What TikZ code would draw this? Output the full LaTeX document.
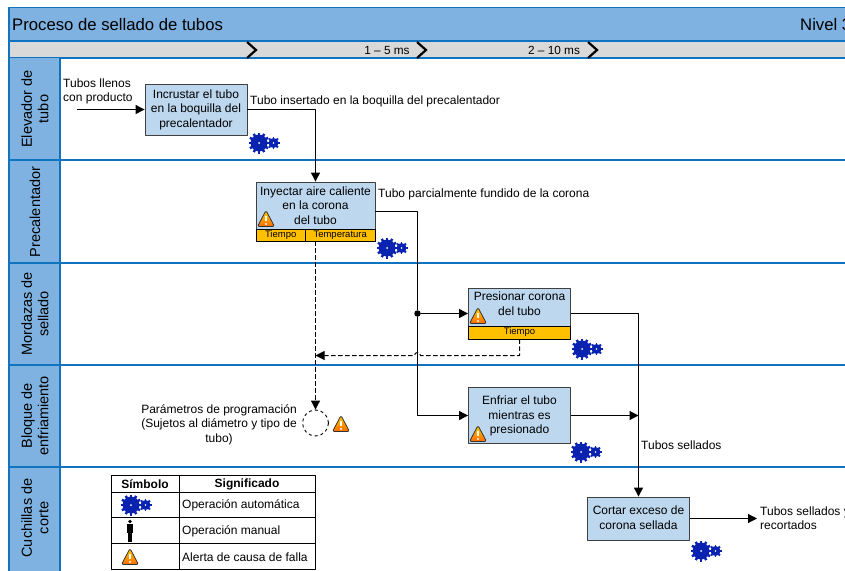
\documentclass[tikz,border=0pt]{standalone}
\usepackage{fontspec}
\setmainfont{Liberation Sans}
\usetikzlibrary{positioning,calc,arrows.meta}
\definecolor{azulcab}{HTML}{7FB2E0}
\definecolor{azulraya}{HTML}{0F73C0}
\definecolor{azulcaja}{HTML}{BDD7EE}
\definecolor{azulgear}{HTML}{0A22B0}
\definecolor{grisfranja}{HTML}{D9D9D9}
\definecolor{ambar}{HTML}{FFC000}
\tikzset{
	paso/.style={draw=black!75,fill=azulcaja,line width=0.9pt,inner sep=0pt},
	txtpaso/.style={align=center,inner sep=0pt,font=\fontsize{12}{14.6}\selectfont},
	etiq/.style={draw=black,fill=ambar,line width=0.8pt,inner sep=0pt,font=\fontsize{9.5}{10}\selectfont},
	txtlibre/.style={align=left,anchor=west,inner sep=0pt,font=\fontsize{12}{14.2}\selectfont},
	txtcarril/.style={rotate=90,align=center,inner sep=0pt,font=\fontsize{14.5}{16.5}\selectfont},
	flujo/.style={line width=1.2pt,-{Triangle[length=9pt,width=9pt]}},
	flujoraso/.style={line width=1.2pt},
	flujodash/.style={line width=1pt,dash pattern=on 4.5pt off 2.5pt,-{Triangle[length=9pt,width=9pt]}},
	chevron/.style={line width=2.2pt,line join=miter},
	alerta/.pic={
		\draw[draw=black!80,line width=0.8pt,rounded corners=1.5pt,top color=yellow!60!orange,bottom color=orange!85!red] (-8.5,7.5)--(0,-8.5)--(8.5,7.5)--cycle;
		\draw[white,line width=1.7pt] (0,-3.5)--(0,2);
		\fill[white] (0,5) circle(1.1);
	},
	engrane/.pic={
		\foreach \ang in {0,30,...,330} \draw[azulgear,line width=2.4pt] (0,0)--(\ang:10.5);
		\fill[azulgear] (0,0) circle(8.5);
		\fill[white] (0,0) circle(1);
		\foreach \ang in {0,45,...,315} \draw[azulgear,line width=1.8pt] (14.5,0)+(0,0)--+(\ang:6.3);
		\fill[azulgear] (14.5,0) circle(5);
		\fill[white] (14.5,0) circle(0.9);
	},
	persona/.pic={
		\fill (0,-8.5) circle(1.8);
		\fill (-3,-6) rectangle (3,3);
		\fill (-2,3) rectangle (2,12);
	}
}
\begin{document}
\begin{tikzpicture}[x=1pt,y=-1pt,line join=round]
	\useasboundingbox (0,0) rectangle (845,570);
	\clip (0,0) rectangle (845,570);
	% cabecera
	\draw[azulraya,line width=1.3pt,fill=azulcab] (9,7.5) rectangle (860,41);
	\draw[azulraya,line width=1.3pt,fill=grisfranja] (9,41) rectangle (860,58);
	\node[anchor=west,inner sep=0pt,font=\fontsize{16.7}{18}\selectfont] (titulo) at (12,24.5) {Proceso de sellado de tubos};
	\node[anchor=west,inner sep=0pt,font=\fontsize{16.7}{18}\selectfont] (nivel) at (800,24.5) {Nivel 3};
	\foreach \xc in {247,417,588} \draw[chevron] (\xc,42)--(\xc+9,50)--(\xc,58);
	\node[inner sep=0pt,font=\fontsize{11.8}{13}\selectfont] (tiempoa) at (387,50) {1 – 5 ms};
	\node[inner sep=0pt,font=\fontsize{11.8}{13}\selectfont] (tiempob) at (554,50) {2 – 10 ms};
	% carriles
	\fill[azulcab] (9,58) rectangle (60,580);
	\foreach \yc in {160,263,365,467} \draw[azulraya,line width=1.3pt] (9,\yc)--(860,\yc);
	\draw[azulraya,line width=1.3pt] (9,58)--(9,580) (60,58)--(60,580);
	\node[txtcarril] (elevador) at (35,109) {Elevador de\\tubo};
	\node[txtcarril] (precal) at (35,212) {Precalentador};
	\node[txtcarril] (mordazas) at (35,314) {Mordazas de\\sellado};
	\node[txtcarril] (bloque) at (35,416) {Bloque de\\enfriamiento};
	\node[txtcarril] (cuchillas) at (35,518) {Cuchillas de\\corte};
	% operaciones
	\node[paso,minimum width=102pt,minimum height=51pt] (incrustar) at (196,109.5) {};
	\node[txtpaso] (txtincrustar) at (196,109.5) {Incrustar el tubo\\en la boquilla del\\precalentador};
	\node[paso,minimum width=119pt,minimum height=59pt] (inyectar) at (315.5,211.5) {};
	\node[txtpaso] (txtinyectar) at (315.5,205.5) {Inyectar aire caliente\\en la corona\\del tubo};
	\node[etiq,minimum width=49.5pt,minimum height=11.5pt] (tiempoiny) at (280.7,235.5) {Tiempo};
	\node[etiq,minimum width=69.5pt,minimum height=11.5pt] (tempiny) at (340.2,235.5) {Temperatura};
	\node[paso,minimum width=102pt,minimum height=51pt] (presionar) at (519.5,313.5) {};
	\node[txtpaso] (txtpresionar) at (519.5,304) {Presionar corona\\del tubo};
	\node[etiq,minimum width=102pt,minimum height=13pt] (tiempopre) at (519.5,332.5) {Tiempo};
	\node[paso,minimum width=102pt,minimum height=56pt] (enfriar) at (519.5,415.5) {};
	\node[txtpaso] (txtenfriar) at (519.5,416) {Enfriar el tubo\\mientras es\\presionado};
	\node[paso,minimum width=102pt,minimum height=43pt] (cortar) at (638.5,518.5) {};
	\node[txtpaso] (txtcortar) at (638.5,518) {Cortar exceso de\\corona sellada};
	\pic at (266,219) {alerta};
	\pic at (478,316) {alerta};
	\pic at (478,434) {alerta};
	\pic at (259,143) {engrane};
	\pic at (387,248) {engrane};
	\pic at (582,349) {engrane};
	\pic at (581,452) {engrane};
	\pic at (701,551) {engrane};
	% programacion
	\node[circle,draw,dashed,line width=0.9pt,minimum size=26pt,inner sep=0pt] (programa) at (315.5,423) {};
	\node[align=center,inner sep=0pt,font=\fontsize{12}{14.5}\selectfont] (txtprograma) at (219,424.5) {Parámetros de programación\\(Sujetos al diámetro y tipo de\\tubo)};
	\pic at (341,424) {alerta};
	% flujos
	\coordinate (entrada) at (77,109.5);
	\coordinate (salida) at (757,518.5);
	\coordinate (union) at (638.5,415.5);
	\coordinate (retorno) at (315.5,355.5);
	\node[circle,fill=black,inner sep=0pt,minimum size=6.5pt] (ramal) at (417.5,313.5) {};
	\draw[flujo] (entrada)--(incrustar);
	\draw[flujo] (incrustar)-|(inyectar);
	\draw[flujoraso] (inyectar.east)-|(ramal);
	\draw[flujo] (ramal)--(presionar);
	\draw[flujo] (ramal)|-(enfriar);
	\draw[flujo] (presionar)-|(cortar);
	\draw[flujo] (enfriar)--(union);
	\draw[flujo] (cortar)--(salida);
	\draw[flujodash] (inyectar.south)--(programa.north);
	\draw[flujodash] (presionar.south)|-($(ramal|-retorno)+(3,0)$) arc[start angle=0,end angle=-180,radius=3]--(retorno);
	% textos de flujo
	\node[txtlibre] (txtentrada) at (63,91.5) {Tubos llenos\\con producto};
	\node[txtlibre] (txtinsertado) at (250,101) {Tubo insertado en la boquilla del precalentador};
	\node[txtlibre] (txtfundido) at (378,194) {Tubo parcialmente fundido de la corona};
	\node[txtlibre] (txtsellados) at (641,445) {Tubos sellados};
	\node[txtlibre] (txtsalida) at (760,518) {Tubos sellados y\\recortados};
	% tabla de simbolos
	\draw[line width=0.9pt] (111,475.5) rectangle (315,569.5) (179,475.5)--(179,569.5);
	\foreach \yc in {492.5,517.5,543.5} \draw[line width=0.9pt] (111,\yc)--(315,\yc);
	\node[inner sep=0pt,font=\bfseries\fontsize{12}{13}\selectfont] (simbolo) at (145,484) {Símbolo};
	\node[inner sep=0pt,font=\bfseries\fontsize{12}{13}\selectfont] (significado) at (247,484) {Significado};
	\node[txtlibre] (opauto) at (182,505) {Operación automática};
	\node[txtlibre] (opmanual) at (182,531) {Operación manual};
	\node[txtlibre] (opalerta) at (182,557) {Alerta de causa de falla};
	\pic at (131,505) {engrane};
	\pic at (130,530) {persona};
	\pic at (130,557) {alerta};
\end{tikzpicture}
\end{document}
